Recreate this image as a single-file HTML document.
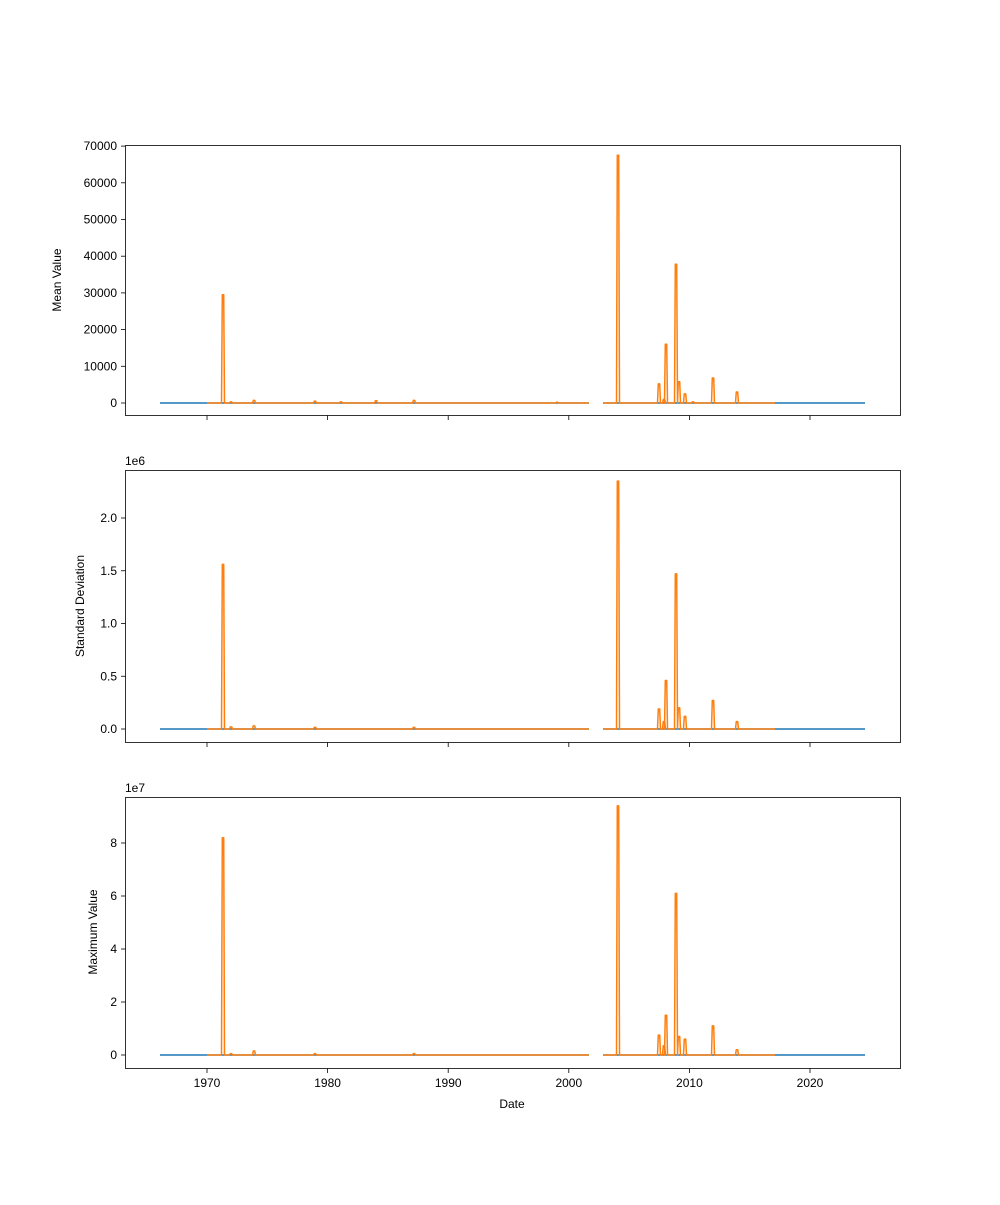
<!DOCTYPE html>
<html><head><style>body{margin:0;background:#fff}svg text{font-family:"Liberation Sans",sans-serif;font-size:12px;fill:#000}</style></head>
<body>
<svg id="s" width="1000" height="1200" xmlns="http://www.w3.org/2000/svg"></svg>
<script>
const s=document.getElementById('s');let h='';
const X=y=>207+(y-1970)*12.06;
const panels=[
 {t:145,b:415,z:403,per:3.67/1000,ticks:[0,10000,20000,30000,40000,50000,60000,70000],lab:v=>v,label:'Mean Value',ly:280,lx:61,
  sp:[[223,29500],[231,300],[254,700],[315,500],[341,300],[376,600],[414,700],[557,200],[618,67500],[659,5200],[664,1000],[666,16000],[676,37800],[679,5800],[685,2500],[693,300],[713,6800],[737,3000]]},
 {t:470,b:742,z:729,per:105.5,ticks:[0,0.5,1,1.5,2],lab:v=>v.toFixed(1),label:'Standard Deviation',ly:606,lx:84,exp:'1e6',
  sp:[[223,1.56],[231,0.02],[254,0.03],[315,0.015],[414,0.015],[618,2.35],[659,0.19],[664,0.07],[666,0.46],[676,1.47],[679,0.2],[685,0.12],[713,0.27],[737,0.07]]},
 {t:797,b:1068,z:1055,per:26.5,ticks:[0,2,4,6,8],lab:v=>v,label:'Maximum Value',ly:932,lx:97,exp:'1e7',
  sp:[[223,8.2],[231,0.05],[254,0.15],[315,0.05],[414,0.05],[618,9.4],[659,0.75],[664,0.35],[666,1.5],[676,6.1],[679,0.7],[685,0.6],[713,1.1],[737,0.2]]}
];
panels.forEach((p,i)=>{
 const z=p.z;
 h+=`<path d="M160 ${z}H589M603 ${z}H865" stroke="#1f77b4" stroke-width="1.5" fill="none"/>`;
 // orange
 let d=`M207 ${z}`;
 const sp=p.sp.slice().sort((a,b)=>a[0]-b[0]);
 let cur=207;
 sp.forEach(([x,v])=>{const y=z-v*p.per; if(cur<589&&x>589){d+=`L589 ${z}M603 ${z}`;} d+=`L${x-1.5} ${z}L${x-0.7} ${y}L${x+0.7} ${y}L${x+1.5} ${z}`;cur=x;});
 d+=`L775 ${z}`;
 h+=`<path d="${d}" stroke="#ff7f0e" stroke-width="1.5" fill="none" stroke-linejoin="round"/>`;
 h+=`<rect x="125.5" y="${p.t+.5}" width="775" height="${p.b-p.t}" fill="none" stroke="#000" stroke-width="0.8"/>`;
 p.ticks.forEach(v=>{const y=z-v*p.per;h+=`<line x1="121" x2="125.5" y1="${y}" y2="${y}" stroke="#000" stroke-width="0.8"/><text x="117" y="${y+4}" text-anchor="end">${p.lab(v)}</text>`;});
 if(p.exp)h+=`<text x="125" y="${p.t-5}">${p.exp}</text>`;
 h+=`<text transform="translate(${p.lx},${p.ly}) rotate(-90)" text-anchor="middle">${p.label}</text>`;
 [1970,1980,1990,2000,2010,2020].forEach(yr=>{const x=X(yr);h+=`<line x1="${x}" x2="${x}" y1="${p.b+.5}" y2="${p.b+5}" stroke="#000" stroke-width="0.8"/>`;if(i==2)h+=`<text x="${x}" y="${p.b+19}" text-anchor="middle">${yr}</text>`;});
});
h+=`<text x="512" y="1108" text-anchor="middle">Date</text>`;
s.innerHTML=h;
</script>
</body></html>
